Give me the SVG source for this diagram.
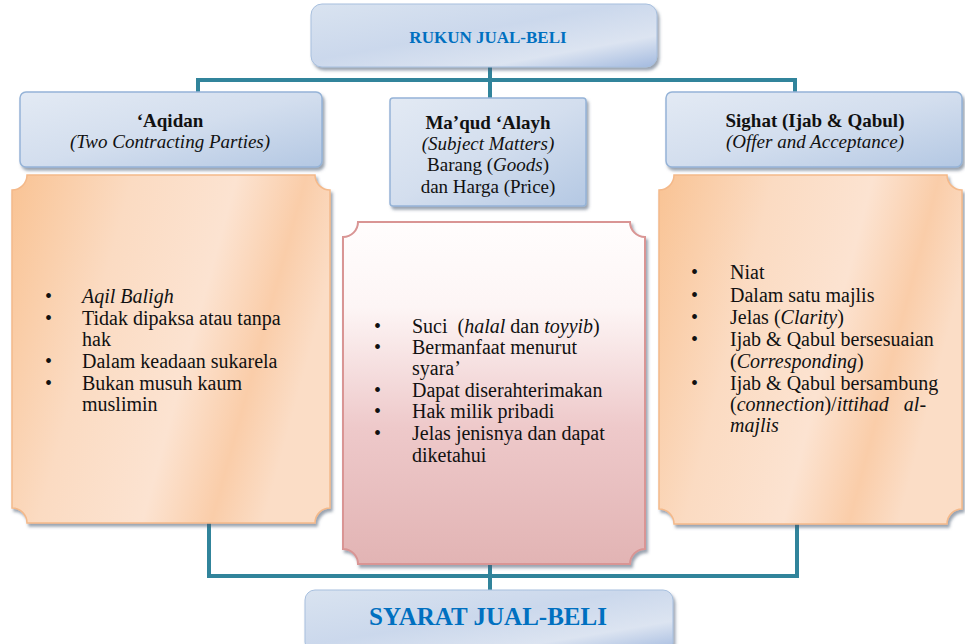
<svg xmlns="http://www.w3.org/2000/svg" width="965" height="644" viewBox="0 0 965 644">
<defs>
<filter id="sh" x="-5%" y="-5%" width="112%" height="115%">
<feDropShadow dx="2" dy="3" stdDeviation="1.5" flood-color="#4a5a70" flood-opacity="0.55"/>
</filter>
<linearGradient id="gBlue" x1="0" y1="0" x2="1" y2="1">
<stop offset="0" stop-color="#E3EAF4"/>
<stop offset="0.5" stop-color="#D3DEEE"/>
<stop offset="1" stop-color="#B4C8E3"/>
</linearGradient>
<linearGradient id="gTitle" x1="0" y1="0" x2="1" y2="1">
<stop offset="0" stop-color="#D9E3F0"/>
<stop offset="0.45" stop-color="#CBD8EC"/>
<stop offset="0.75" stop-color="#DCE4F1"/>
<stop offset="1" stop-color="#A3BADF"/>
</linearGradient>
<linearGradient id="gOrange" x1="0" y1="0" x2="1" y2="0.3">
<stop offset="0" stop-color="#F9C394"/>
<stop offset="0.35" stop-color="#FBDBC2"/>
<stop offset="0.65" stop-color="#FCE3D1"/>
<stop offset="0.85" stop-color="#FACDA9"/>
<stop offset="1" stop-color="#FBDDC6"/>
</linearGradient>
<linearGradient id="gPink" x1="0" y1="0" x2="0" y2="1">
<stop offset="0" stop-color="#FFFDFD"/>
<stop offset="0.25" stop-color="#FDF5F5"/>
<stop offset="0.6" stop-color="#EEC9CA"/>
<stop offset="1" stop-color="#E2B4B4"/>
</linearGradient>
<style>
.hdr{fill:url(#gBlue);stroke:#95B3D7;stroke-width:1.5;filter:url(#sh)}
.ttl{fill:url(#gTitle);stroke:#A7BFDE;stroke-width:1;filter:url(#sh)}
.or{fill:url(#gOrange);stroke:#F4B98A;stroke-width:1.5;filter:url(#sh)}
.pk{fill:url(#gPink);stroke:#D99594;stroke-width:2;filter:url(#sh)}
.con{fill:none;stroke:#31849B;stroke-width:4}
text{font-family:"Liberation Serif","DejaVu Serif",serif;fill:#111}
.b{font-weight:bold}
.i{font-style:italic}
.c{text-anchor:middle}
.t{font-size:19px}
.bt{font-size:20px}
.blue{fill:#0070C0;font-weight:bold}
</style>
</defs>

<g id="connectors">
<polyline class="con" points="198,92 198,80 795,80 795,92"/>
<line class="con" x1="490" y1="66" x2="490" y2="99"/>
<polyline class="con" points="209,522 209,576 797,576 797,522"/>
<line class="con" x1="490" y1="562" x2="490" y2="592"/>
</g>

<g id="rukun">
<rect class="ttl" x="311" y="4" width="346" height="63" rx="11"/>
<text class="blue c" x="488" y="43" font-size="17">RUKUN JUAL-BELI</text>
</g>

<g id="aqidan">
<rect class="hdr" x="20" y="92" width="302" height="75" rx="6"/>
<text class="b c t" x="170" y="127">‘Aqidan</text>
<text class="i c t" x="170" y="148">(Two Contracting Parties)</text>
</g>

<g id="maqud">
<rect class="hdr" x="390" y="98" width="196" height="108" rx="3"/>
<text class="b c t" x="488" y="129">Ma’qud ‘Alayh</text>
<text class="i c t" x="488" y="150">(Subject Matters)</text>
<text class="c t" x="488" y="171">Barang (<tspan class="i">Goods</tspan>)</text>
<text class="c t" x="488" y="193">dan Harga (Price)</text>
</g>

<g id="sighat">
<rect class="hdr" x="666" y="92" width="296" height="75" rx="6"/>
<text class="b c t" x="815" y="127">Sighat (Ijab &amp; Qabul)</text>
<text class="i c t" x="815" y="148">(Offer and Acceptance)</text>
</g>

<g id="syarat-aqidan">
<path class="or" d="M27,175 L315,175 A15,15 0 0 0 330,190 L330,508 A15,15 0 0 0 315,523 L27,523 A15,15 0 0 0 12,508 L12,190 A15,15 0 0 0 27,175 Z"/>
<g class="bt">
<text x="45" y="303">•</text><text class="i" x="82" y="303">Aqil Baligh</text>
<text x="45" y="325">•</text><text x="82" y="325">Tidak dipaksa atau tanpa</text>
<text x="82" y="346">hak</text>
<text x="45" y="368">•</text><text x="82" y="368">Dalam keadaan sukarela</text>
<text x="45" y="390">•</text><text x="82" y="390">Bukan musuh kaum</text>
<text x="82" y="411">muslimin</text>
</g>
</g>

<g id="syarat-maqud">
<path class="pk" d="M358,222 L630,222 A15,15 0 0 0 645,237 L645,549 A15,15 0 0 0 630,564 L358,564 A15,15 0 0 0 343,549 L343,237 A15,15 0 0 0 358,222 Z"/>
<g class="bt">
<text x="374" y="333">•</text><text x="412" y="333">Suci &#160;(<tspan class="i">halal</tspan> dan <tspan class="i">toyyib</tspan>)</text>
<text x="374" y="354">•</text><text x="412" y="354">Bermanfaat menurut</text>
<text x="412" y="375">syara’</text>
<text x="374" y="397">•</text><text x="412" y="397">Dapat diserahterimakan</text>
<text x="374" y="418">•</text><text x="412" y="418">Hak milik pribadi</text>
<text x="374" y="440">•</text><text x="412" y="440">Jelas jenisnya dan dapat</text>
<text x="412" y="462">diketahui</text>
</g>
</g>

<g id="syarat-sighat">
<path class="or" d="M674,175 L947,175 A15,15 0 0 0 962,190 L962,509 A15,15 0 0 0 947,524 L674,524 A15,15 0 0 0 659,509 L659,190 A15,15 0 0 0 674,175 Z"/>
<g class="bt">
<text x="691" y="279">•</text><text x="730" y="279">Niat</text>
<text x="691" y="302">•</text><text x="730" y="302">Dalam satu majlis</text>
<text x="691" y="324">•</text><text x="730" y="324">Jelas (<tspan class="i">Clarity</tspan>)</text>
<text x="691" y="346">•</text><text x="730" y="346">Ijab &amp; Qabul bersesuaian</text>
<text x="730" y="368">(<tspan class="i">Corresponding</tspan>)</text>
<text x="691" y="390">•</text><text x="730" y="390">Ijab &amp; Qabul bersambung</text>
<text x="730" y="411">(<tspan class="i">connection</tspan>)/<tspan class="i">ittihad &#160; al-</tspan></text>
<text class="i" x="730" y="432">majlis</text>
</g>
</g>

<g id="syarat">
<rect class="ttl" x="305" y="590" width="368" height="62" rx="10"/>
<text class="blue c" x="488" y="625" font-size="25">SYARAT JUAL-BELI</text>
</g>
</svg>
